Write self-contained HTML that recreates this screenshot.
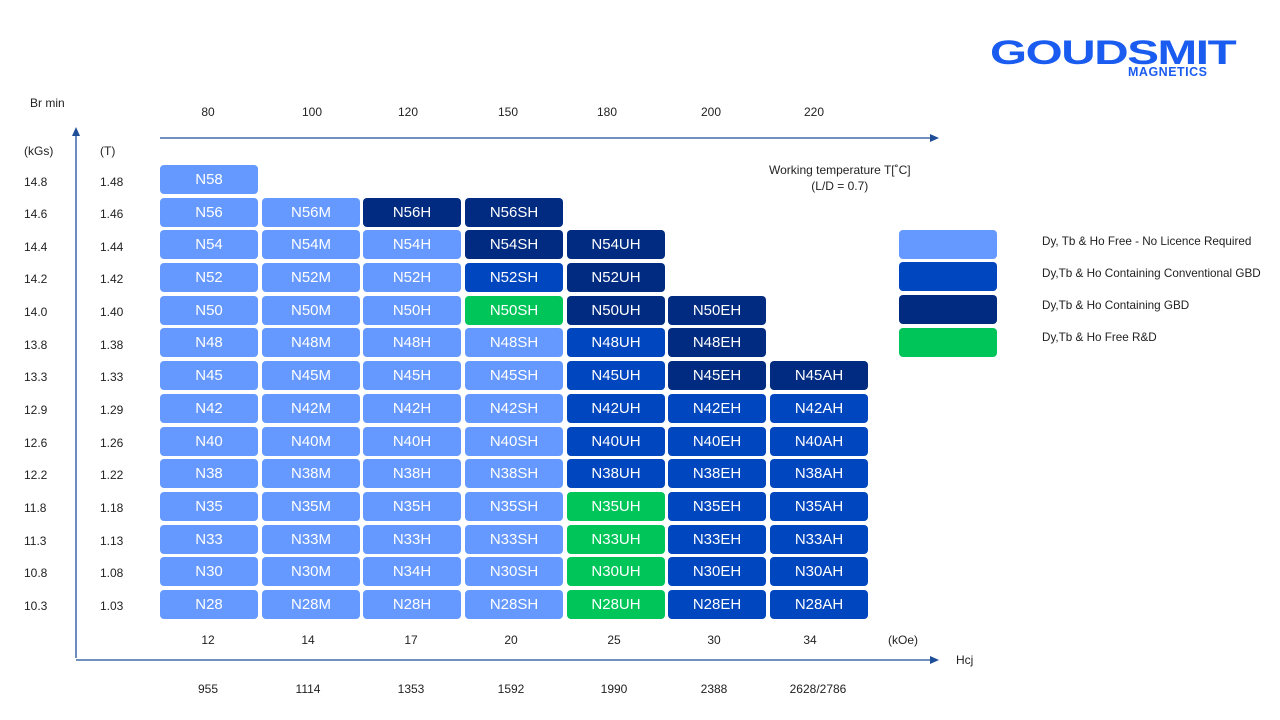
<!DOCTYPE html>
<html><head><meta charset="utf-8"><style>
body{margin:0;width:1280px;height:720px;background:#fff;position:relative;overflow:hidden;font-family:"Liberation Sans",Arial,sans-serif;color:#222}
.t{position:absolute;font-size:12px;white-space:nowrap}
.c{position:absolute;width:98px;height:29px;border-radius:4px;color:#fff;font-size:15px;text-align:center;line-height:29px}
.L{background:#6699ff}.M{background:#0046be}.D{background:#002b80}.G{background:#00c65a}
.cc{transform:translateX(-50%)}
</style></head><body>
<div class="t" style="left:990px;top:34px;font-size:34px;font-weight:900;color:#1a5cf0;letter-spacing:-1px;transform:scaleX(1.4);transform-origin:left">GOUDSMIT</div>
<div class="t" style="left:1128px;top:65px;font-size:12.5px;font-weight:bold;color:#1a5cf0;letter-spacing:0.5px">MAGNETICS</div>

<svg style="position:absolute;left:0;top:0" width="1280" height="720">
<line x1="76" y1="658" x2="76" y2="136" stroke="#1f4e99" stroke-width="1.3"/>
<polygon points="72,136 80,136 76,127" fill="#1f4e99"/>
<line x1="76" y1="660" x2="932" y2="660" stroke="#1f4e99" stroke-width="1.3"/>
<polygon points="930,656 930,664 939,660" fill="#1f4e99"/>
<line x1="160" y1="138" x2="932" y2="138" stroke="#1f4e99" stroke-width="1.3"/>
<polygon points="930,134 930,142 939,138" fill="#1f4e99"/>
</svg>

<div class="t" style="left:30px;top:96px">Br min</div>
<div class="t" style="left:24px;top:144px">(kGs)</div>
<div class="t" style="left:100px;top:144px">(T)</div>

<div class="t cc" style="left:208px;top:105px">80</div>
<div class="t cc" style="left:312px;top:105px">100</div>
<div class="t cc" style="left:408px;top:105px">120</div>
<div class="t cc" style="left:508px;top:105px">150</div>
<div class="t cc" style="left:607px;top:105px">180</div>
<div class="t cc" style="left:711px;top:105px">200</div>
<div class="t cc" style="left:814px;top:105px">220</div>
<div class="t" style="left:769px;top:162px;text-align:center;line-height:16px">Working temperature T[˚C]<br>(L/D = 0.7)</div>

<div class="t cc" style="left:208px;top:633px">12</div>
<div class="t cc" style="left:308px;top:633px">14</div>
<div class="t cc" style="left:411px;top:633px">17</div>
<div class="t cc" style="left:511px;top:633px">20</div>
<div class="t cc" style="left:614px;top:633px">25</div>
<div class="t cc" style="left:714px;top:633px">30</div>
<div class="t cc" style="left:810px;top:633px">34</div>
<div class="t" style="left:888px;top:633px">(kOe)</div>
<div class="t" style="left:956px;top:653px">Hcj</div>
<div class="t cc" style="left:208px;top:682px">955</div>
<div class="t cc" style="left:308px;top:682px">1114</div>
<div class="t cc" style="left:411px;top:682px">1353</div>
<div class="t cc" style="left:511px;top:682px">1592</div>
<div class="t cc" style="left:614px;top:682px">1990</div>
<div class="t cc" style="left:714px;top:682px">2388</div>
<div class="t cc" style="left:818px;top:682px">2628/2786</div>

<div class="t" style="left:24px;top:175px">14.8</div><div class="t" style="left:100px;top:175px">1.48</div>
<div class="t" style="left:24px;top:207px">14.6</div><div class="t" style="left:100px;top:207px">1.46</div>
<div class="t" style="left:24px;top:240px">14.4</div><div class="t" style="left:100px;top:240px">1.44</div>
<div class="t" style="left:24px;top:272px">14.2</div><div class="t" style="left:100px;top:272px">1.42</div>
<div class="t" style="left:24px;top:305px">14.0</div><div class="t" style="left:100px;top:305px">1.40</div>
<div class="t" style="left:24px;top:338px">13.8</div><div class="t" style="left:100px;top:338px">1.38</div>
<div class="t" style="left:24px;top:370px">13.3</div><div class="t" style="left:100px;top:370px">1.33</div>
<div class="t" style="left:24px;top:403px">12.9</div><div class="t" style="left:100px;top:403px">1.29</div>
<div class="t" style="left:24px;top:436px">12.6</div><div class="t" style="left:100px;top:436px">1.26</div>
<div class="t" style="left:24px;top:468px">12.2</div><div class="t" style="left:100px;top:468px">1.22</div>
<div class="t" style="left:24px;top:501px">11.8</div><div class="t" style="left:100px;top:501px">1.18</div>
<div class="t" style="left:24px;top:534px">11.3</div><div class="t" style="left:100px;top:534px">1.13</div>
<div class="t" style="left:24px;top:566px">10.8</div><div class="t" style="left:100px;top:566px">1.08</div>
<div class="t" style="left:24px;top:599px">10.3</div><div class="t" style="left:100px;top:599px">1.03</div>

<div class="c L" style="left:160px;top:165px">N58</div>

<div class="c L" style="left:160px;top:198px">N56</div><div class="c L" style="left:262px;top:198px">N56M</div><div class="c D" style="left:363px;top:198px">N56H</div><div class="c D" style="left:465px;top:198px">N56SH</div>

<div class="c L" style="left:160px;top:230px">N54</div><div class="c L" style="left:262px;top:230px">N54M</div><div class="c L" style="left:363px;top:230px">N54H</div><div class="c D" style="left:465px;top:230px">N54SH</div><div class="c D" style="left:567px;top:230px">N54UH</div>

<div class="c L" style="left:160px;top:263px">N52</div><div class="c L" style="left:262px;top:263px">N52M</div><div class="c L" style="left:363px;top:263px">N52H</div><div class="c M" style="left:465px;top:263px">N52SH</div><div class="c D" style="left:567px;top:263px">N52UH</div>

<div class="c L" style="left:160px;top:296px">N50</div><div class="c L" style="left:262px;top:296px">N50M</div><div class="c L" style="left:363px;top:296px">N50H</div><div class="c G" style="left:465px;top:296px">N50SH</div><div class="c D" style="left:567px;top:296px">N50UH</div><div class="c D" style="left:668px;top:296px">N50EH</div>

<div class="c L" style="left:160px;top:328px">N48</div><div class="c L" style="left:262px;top:328px">N48M</div><div class="c L" style="left:363px;top:328px">N48H</div><div class="c L" style="left:465px;top:328px">N48SH</div><div class="c M" style="left:567px;top:328px">N48UH</div><div class="c D" style="left:668px;top:328px">N48EH</div>

<div class="c L" style="left:160px;top:361px">N45</div><div class="c L" style="left:262px;top:361px">N45M</div><div class="c L" style="left:363px;top:361px">N45H</div><div class="c L" style="left:465px;top:361px">N45SH</div><div class="c M" style="left:567px;top:361px">N45UH</div><div class="c D" style="left:668px;top:361px">N45EH</div><div class="c D" style="left:770px;top:361px">N45AH</div>

<div class="c L" style="left:160px;top:394px">N42</div><div class="c L" style="left:262px;top:394px">N42M</div><div class="c L" style="left:363px;top:394px">N42H</div><div class="c L" style="left:465px;top:394px">N42SH</div><div class="c M" style="left:567px;top:394px">N42UH</div><div class="c M" style="left:668px;top:394px">N42EH</div><div class="c M" style="left:770px;top:394px">N42AH</div>

<div class="c L" style="left:160px;top:427px">N40</div><div class="c L" style="left:262px;top:427px">N40M</div><div class="c L" style="left:363px;top:427px">N40H</div><div class="c L" style="left:465px;top:427px">N40SH</div><div class="c M" style="left:567px;top:427px">N40UH</div><div class="c M" style="left:668px;top:427px">N40EH</div><div class="c M" style="left:770px;top:427px">N40AH</div>

<div class="c L" style="left:160px;top:459px">N38</div><div class="c L" style="left:262px;top:459px">N38M</div><div class="c L" style="left:363px;top:459px">N38H</div><div class="c L" style="left:465px;top:459px">N38SH</div><div class="c M" style="left:567px;top:459px">N38UH</div><div class="c M" style="left:668px;top:459px">N38EH</div><div class="c M" style="left:770px;top:459px">N38AH</div>

<div class="c L" style="left:160px;top:492px">N35</div><div class="c L" style="left:262px;top:492px">N35M</div><div class="c L" style="left:363px;top:492px">N35H</div><div class="c L" style="left:465px;top:492px">N35SH</div><div class="c G" style="left:567px;top:492px">N35UH</div><div class="c M" style="left:668px;top:492px">N35EH</div><div class="c M" style="left:770px;top:492px">N35AH</div>

<div class="c L" style="left:160px;top:525px">N33</div><div class="c L" style="left:262px;top:525px">N33M</div><div class="c L" style="left:363px;top:525px">N33H</div><div class="c L" style="left:465px;top:525px">N33SH</div><div class="c G" style="left:567px;top:525px">N33UH</div><div class="c M" style="left:668px;top:525px">N33EH</div><div class="c M" style="left:770px;top:525px">N33AH</div>

<div class="c L" style="left:160px;top:557px">N30</div><div class="c L" style="left:262px;top:557px">N30M</div><div class="c L" style="left:363px;top:557px">N34H</div><div class="c L" style="left:465px;top:557px">N30SH</div><div class="c G" style="left:567px;top:557px">N30UH</div><div class="c M" style="left:668px;top:557px">N30EH</div><div class="c M" style="left:770px;top:557px">N30AH</div>

<div class="c L" style="left:160px;top:590px">N28</div><div class="c L" style="left:262px;top:590px">N28M</div><div class="c L" style="left:363px;top:590px">N28H</div><div class="c L" style="left:465px;top:590px">N28SH</div><div class="c G" style="left:567px;top:590px">N28UH</div><div class="c M" style="left:668px;top:590px">N28EH</div><div class="c M" style="left:770px;top:590px">N28AH</div>

<div class="c L" style="left:899px;top:230px"></div>
<div class="c M" style="left:899px;top:262px"></div>
<div class="c D" style="left:899px;top:295px"></div>
<div class="c G" style="left:899px;top:328px"></div>
<div class="t" style="left:1042px;top:235px;font-size:11.7px">Dy, Tb &amp; Ho Free - No Licence Required</div>
<div class="t" style="left:1042px;top:267px;font-size:11.7px">Dy,Tb &amp; Ho Containing Conventional GBD</div>
<div class="t" style="left:1042px;top:299px;font-size:11.7px">Dy,Tb &amp; Ho Containing GBD</div>
<div class="t" style="left:1042px;top:331px;font-size:11.7px">Dy,Tb &amp; Ho Free R&amp;D</div>
</body></html>
